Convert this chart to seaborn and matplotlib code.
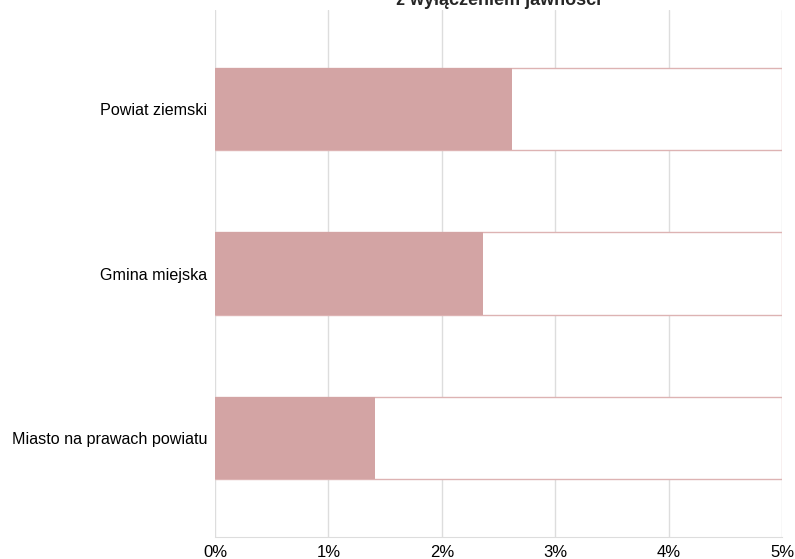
import numpy as np
import pandas as pd
import matplotlib.pyplot as plt
import matplotlib.ticker as ticker
import seaborn as sns

# data
categories = ['Powiat ziemski', 'Gmina miejska', 'Miasto na prawach powiatu']
shares = [2.62, 2.36, 1.41]  # percent
max_share = [5, 5, 5]

df = pd.DataFrame({'kategoria': categories, 'udzial': shares, 'max': max_share})

sns.set_style('white')
plt.rcParams['font.family'] = ['Liberation Sans', 'DejaVu Sans']

fig = plt.figure(figsize=(7.95, 5.59), dpi=100)
ax = fig.add_axes([0.2704, 0.0394, 0.7132, 0.9426])

# background "track" bars
sns.barplot(data=df, x='max', y='kategoria', ax=ax, color='white',
            edgecolor='#ddb3b3', linewidth=1.0, width=0.5, zorder=2)
# actual values
sns.barplot(data=df, x='udzial', y='kategoria', ax=ax, color='#d3a4a4',
            saturation=1, linewidth=0, width=0.5, zorder=3)

ax.set_xlim(0, 5)
ax.set_ylim(2.6, -0.6)
ax.xaxis.set_major_locator(ticker.MultipleLocator(1))
ax.xaxis.set_major_formatter(ticker.FuncFormatter(lambda v, p: f'{v:.0f}%'))
ax.grid(axis='x', color='#dddddd', linewidth=1, zorder=0)
ax.set_axisbelow(True)

for s in ['top', 'right', 'left']:
    ax.spines[s].set_visible(False)
ax.spines['bottom'].set_color('#dddddd')
ax.tick_params(axis='both', which='both', length=5, color='#aaaaaa',
               labelcolor='black', pad=1)
ax.tick_params(axis='x', labelsize=12)
ax.tick_params(axis='y', labelsize=11.6, pad=0.5)
ax.set_xlabel('')
ax.set_ylabel('')

ax.set_title('z wyłączeniem jawności', fontsize=13, fontweight='bold', pad=4)

plt.savefig('out.png', dpi=100)
plt.close()
